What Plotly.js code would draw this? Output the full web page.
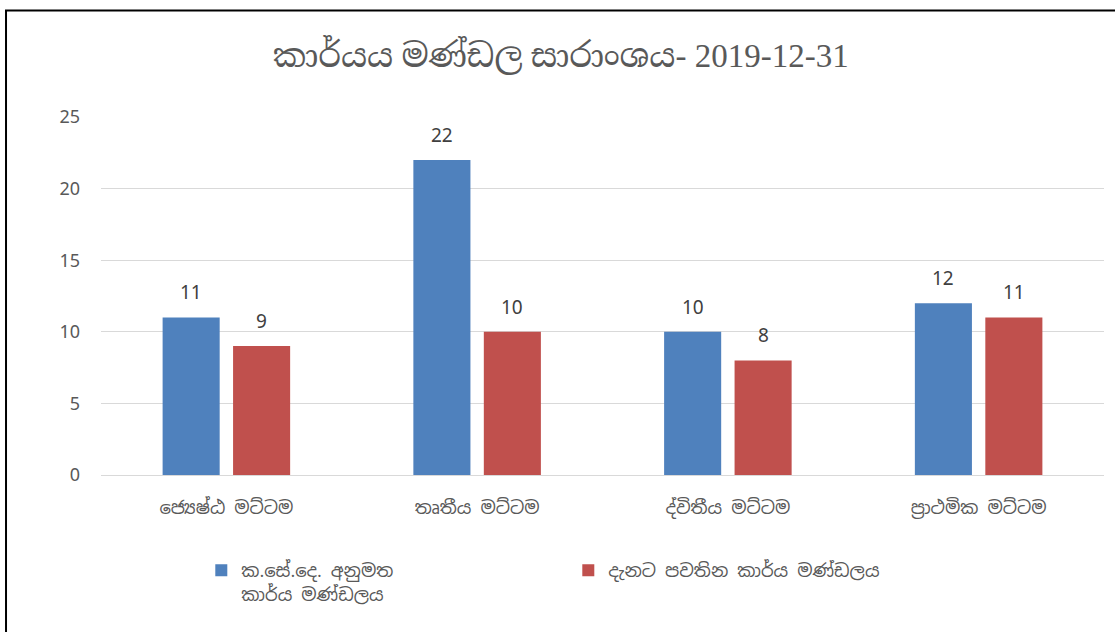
<!DOCTYPE html>
<html>
<head>
<meta charset="utf-8">
<script src="https://cdn.plot.ly/plotly-3.0.1.min.js"></script>
<style>
html,body{margin:0;padding:0;background:#fff;}
#chart{width:1115px;height:632px;}
</style>
</head>
<body>
<div id="chart"></div>
<script>
const chartTitle = "කාර්යය මණ්ඩල සාරාංශය- 2019-12-31";
const categories = ["ජ්‍යෙෂ්ඨ මට්ටම", "තෘතීය මට්ටම", "ද්විතීය මට්ටම", "ප්‍රාථමික මට්ටම"];
const seriesNames = ["ක.සේ.දෙ. අනුමත<br>කාර්ය මණ්ඩලය", "දැනට පවතින කාර්ය මණ්ඩලය"];
const approved = [11, 22, 10, 12];
const current = [9, 10, 8, 11];
const yTicks = [0, 5, 10, 15, 20, 25];

const baseFont = "'Noto Sans Sinhala', 'Noto Sans', 'Open Sans', sans-serif";
const numFont = "'Noto Sans', 'Open Sans', sans-serif";

function barTrace(name, values, color) {
  return {
    type: 'bar',
    name: name,
    x: categories,
    y: values,
    marker: {color: color},
    hoverinfo: 'none'
  };
}

const data = [
  barTrace(seriesNames[0], approved, '#4F81BD'),
  barTrace(seriesNames[1], current, '#C0504D')
];

// value labels above bars (group offset of half a bar slot)
const slotShift = 35.25;
const annotations = [];
[approved, current].forEach((vals, si) => {
  vals.forEach((v, i) => {
    annotations.push({
      x: categories[i], y: v, xref: 'x', yref: 'y',
      text: String(v), showarrow: false,
      xanchor: 'center', yanchor: 'bottom',
      xshift: si === 0 ? -slotShift : slotShift,
      yshift: 10,
      font: {size: 19, color: '#404040', family: numFont}
    });
  });
});

const layout = {
  width: 1115,
  height: 632,
  margin: {l: 101, r: 11, t: 117, b: 157},
  paper_bgcolor: '#ffffff',
  plot_bgcolor: '#ffffff',
  font: {family: baseFont, color: '#595959'},
  title: {
    text: chartTitle,
    font: {family: "'Liberation Serif', 'Noto Serif Sinhala', 'Noto Sans Sinhala', serif", size: 33, color: '#595959'},
    x: 0.503, xanchor: 'center',
    y: 0.913, yanchor: 'middle'
  },
  barmode: 'group',
  bargap: 0.438,
  bargroupgap: 0.19,
  showlegend: true,
  legend: {
    orientation: 'h',
    x: 0.1, xanchor: 'left',
    y: -0.215, yanchor: 'top',
    entrywidth: 322, entrywidthmode: 'pixels',
    font: {size: 18, color: '#595959', family: baseFont},
    traceorder: 'normal',
    valign: 'top'
  },
  xaxis: {
    type: 'category',
    showgrid: false,
    showline: true,
    linecolor: '#d9d9d9',
    linewidth: 1,
    ticks: '',
    tickfont: {size: 18, color: '#595959', family: baseFont},
    ticklabelstandoff: 16,
    fixedrange: true
  },
  yaxis: {
    range: [0, 25],
    tickvals: yTicks,
    showgrid: true,
    gridcolor: '#d9d9d9',
    gridwidth: 1,
    zeroline: true,
    zerolinecolor: '#d9d9d9',
    showline: false,
    ticks: '',
    tickfont: {size: 18, color: '#595959', family: numFont},
    ticklabelstandoff: 20,
    fixedrange: true
  },
  annotations: annotations,
  shapes: [
    {type: 'line', xref: 'paper', yref: 'paper', x0: -0.0947, x1: -0.0947, y0: 1.2975, y1: -0.5, line: {color: '#000000', width: 2}},
    {type: 'line', xref: 'paper', yref: 'paper', x0: -0.0957, x1: 1.05, y0: 1.2975, y1: 1.2975, line: {color: '#000000', width: 2}}
  ]
};

Plotly.newPlot('chart', data, layout, {displayModeBar: false, staticPlot: true});
</script>
</body>
</html>
